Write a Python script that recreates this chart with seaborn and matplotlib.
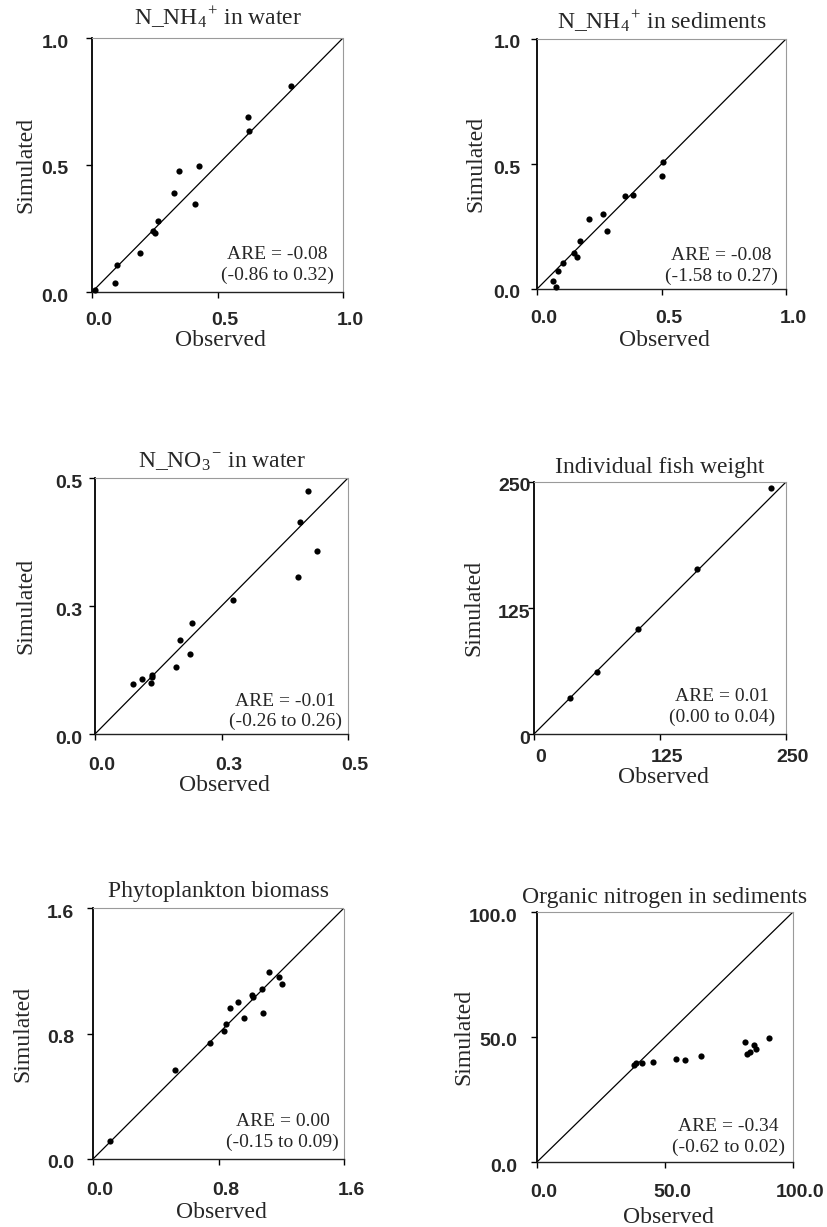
import numpy as np
import pandas as pd
import matplotlib
matplotlib.use("Agg")
import matplotlib.pyplot as plt
import matplotlib.transforms as mtransforms
import seaborn as sns

# ---------------- data ----------------
nh4_water_obs = [0.013, 0.09, 0.099, 0.192, 0.242, 0.252, 0.262, 0.327, 0.346, 0.412, 0.428, 0.620, 0.624, 0.791]
nh4_water_sim = [0.007, 0.036, 0.105, 0.154, 0.241, 0.234, 0.280, 0.391, 0.476, 0.345, 0.496, 0.688, 0.634, 0.812]

nh4_sed_obs = [0.064, 0.076, 0.086, 0.103, 0.149, 0.161, 0.174, 0.207, 0.264, 0.280, 0.353, 0.386, 0.501, 0.506]
nh4_sed_sim = [0.033, 0.008, 0.072, 0.104, 0.144, 0.130, 0.193, 0.280, 0.300, 0.231, 0.371, 0.377, 0.451, 0.507]

no3_obs = [0.0746, 0.0937, 0.111, 0.112, 0.112, 0.160, 0.167, 0.188, 0.191, 0.272, 0.401, 0.405, 0.420, 0.439]
no3_sim = [0.098, 0.108, 0.099, 0.111, 0.115, 0.131, 0.184, 0.157, 0.216, 0.261, 0.306, 0.415, 0.474, 0.358]

fish_obs = [35.7, 62.1, 103.0, 161.8, 235.5]
fish_sim = [36.1, 61.9, 104.3, 163.6, 244.0]

phyto_obs = [0.106, 0.521, 0.748, 0.833, 0.850, 0.876, 0.922, 0.960, 1.013, 1.022, 1.077, 1.084, 1.124, 1.188, 1.205]
phyto_sim = [0.117, 0.568, 0.738, 0.818, 0.860, 0.964, 1.000, 0.896, 1.043, 1.030, 1.081, 0.928, 1.191, 1.161, 1.114]

orgn_obs = [37.8, 38.5, 40.9, 45.2, 54.2, 57.8, 64.1, 81.2, 82.1, 83.2, 84.7, 85.4, 90.5]
orgn_sim = [38.8, 39.5, 39.5, 40.0, 41.3, 40.8, 42.3, 48.1, 43.1, 44.0, 46.8, 45.1, 49.6]

titles = ["N_NH$_{\\mathregular{4}}$$^{\\mathregular{+}}$ in water",
          "N_NH$_{\\mathregular{4}}$$^{\\mathregular{+}}$ in sediments",
          "N_NO$_{\\mathregular{3}}$$^{\\mathregular{-}}$ in water",
          "Individual fish weight",
          "Phytoplankton biomass",
          "Organic nitrogen in sediments"]
axis_max = [1.0, 1.0, 0.5, 250, 1.6, 100.0]
tick_values = [[0, 0.5, 1.0], [0, 0.5, 1.0], [0, 0.25, 0.5], [0, 125, 250], [0, 0.8, 1.6], [0, 50, 100]]
tick_labels = [["0.0", "0.5", "1.0"], ["0.0", "0.5", "1.0"], ["0.0", "0.3", "0.5"],
               ["0", "125", "250"], ["0.0", "0.8", "1.6"], ["0.0", "50.0", "100.0"]]
are_text = ["ARE = -0.08\n(-0.86 to 0.32)", "ARE = -0.08\n(-1.58 to 0.27)",
            "ARE = -0.01\n(-0.26 to 0.26)", "ARE = 0.01\n(0.00 to 0.04)",
            "ARE = 0.00\n(-0.15 to 0.09)", "ARE = -0.34\n(-0.62 to 0.02)"]
obs_list = [nh4_water_obs, nh4_sed_obs, no3_obs, fish_obs, phyto_obs, orgn_obs]
sim_list = [nh4_water_sim, nh4_sed_sim, no3_sim, fish_sim, phyto_sim, orgn_sim]

# ---------------- layout (pixels in 827x1227 figure) ----------------
W, H = 827, 1227
# L, R, T, B
boxes = [(92, 343, 38, 292), (537, 786, 39, 289), (95, 348, 478, 734),
         (534, 786, 482, 734), (93, 344, 908, 1159), (537, 793, 912, 1162)]
title_base = [25, 29, 468, 473, 897, 903]
ylab_x = [36, 486, 36, 484, 33, 474]
xlab_top = [330, 330, 775, 767, 1202, 1207]
ytick_pad_px = [18, 11, 7, -2, 13, 14]
xtick_pad_px = [14, 15, 17, 9, 17, 16]
are_pos = [(0.74, 0.107), (0.739, 0.093), (0.751, 0.088), (0.746, 0.107), (0.756, 0.108), (0.748, 0.100)]

sns.set_style("ticks")
plt.rcParams["font.family"] = ["Liberation Serif", "DejaVu Serif"]
plt.rcParams["mathtext.fontset"] = "stix"

fig = plt.figure(figsize=(W / 100, H / 100), dpi=100)
px = 72 / 100.0  # points per pixel

for i in range(6):
    L, R, T, B = boxes[i]
    ax = fig.add_axes([L / W, 1 - B / H, (R - L) / W, (B - T) / H])
    df = pd.DataFrame({"Observed": obs_list[i], "Simulated": sim_list[i]})
    m = axis_max[i]
    ax.plot([0, m], [0, m], color="black", lw=0.9, zorder=1)
    sns.scatterplot(data=df, x="Observed", y="Simulated", ax=ax, color="black",
                    s=20, edgecolor="black", linewidth=0, zorder=3, clip_on=False)
    ax.set_xlim(0, m)
    ax.set_ylim(0, m)
    ax.set_xticks(tick_values[i])
    ax.set_yticks(tick_values[i])
    ax.set_xticklabels(tick_labels[i])
    ax.set_yticklabels(tick_labels[i])
    for lab in ax.get_xticklabels() + ax.get_yticklabels():
        lab.set_family(["Liberation Sans", "DejaVu Sans"])
        lab.set_fontweight("bold")
        lab.set_fontsize(14)
    ax.tick_params(axis="both", direction="out", length=4, width=1, color="black")
    ax.tick_params(axis="y", pad=ytick_pad_px[i] * px)
    ax.tick_params(axis="x", pad=xtick_pad_px[i] * px)
    # slight offsets of tick labels like the original
    off_x = mtransforms.ScaledTranslation(0.07, 0, fig.dpi_scale_trans)
    for lab in ax.get_xticklabels():
        lab.set_transform(lab.get_transform() + off_x)
    off_y = mtransforms.ScaledTranslation(0, -0.03, fig.dpi_scale_trans)
    for lab in ax.get_yticklabels():
        lab.set_transform(lab.get_transform() + off_y)

    for side in ["top", "right"]:
        ax.spines[side].set_color("#9a9a9a")
        ax.spines[side].set_linestyle((0, (1, 1)))
        ax.spines[side].set_linewidth(0.8)
    ax.spines["left"].set_color("black")
    ax.spines["left"].set_linewidth(1.3)
    ax.spines["bottom"].set_color("#222222")
    ax.spines["bottom"].set_linewidth(1.0)

    ax.set_title(titles[i], fontsize=17, pad=(T - title_base[i]) * px)
    ax.set_xlabel("Observed", fontsize=17)
    ax.set_ylabel("Simulated", fontsize=17)
    ax.xaxis.set_label_coords(0.5 + 3 / (R - L), (B - xlab_top[i]) / (B - T))
    ax.yaxis.set_label_coords((ylab_x[i] - L) / (R - L), 0.5)

    ax.text(are_pos[i][0], are_pos[i][1], are_text[i], transform=ax.transAxes,
            ha="center", va="center", multialignment="center", fontsize=14,
            linespacing=1.25)

fig.savefig("out.png", dpi=100)
